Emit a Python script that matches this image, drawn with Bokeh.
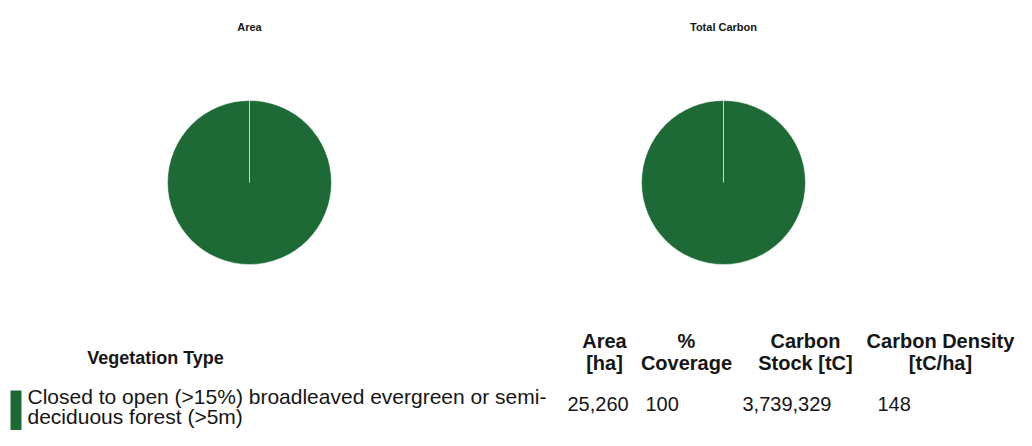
import math
from bokeh.plotting import figure
from bokeh.models import Range1d, ColumnDataSource
from bokeh.core.properties import value
from bokeh.embed import file_html
from bokeh.resources import INLINE

# ---- data ----
pie_titles = ["Area", "Total Carbon"]
categories = ["Closed to open (>15%) broadleaved evergreen or semi-deciduous forest (>5m)"]
category_colors = ["#1e6a37"]
area_ha = [25260]
coverage_pct = [100]
carbon_stock_tc = [3739329]
carbon_density = [148]
table_headers = ["Area\n[ha]", "%\nCoverage", "Carbon\nStock [tC]", "Carbon Density\n[tC/ha]"]

FONT = value("Liberation Sans")
INK = "#161616"

W, H = 1016, 430
p = figure(width=W, height=H, output_backend="svg", toolbar_location=None,
           x_range=Range1d(0, W), y_range=Range1d(H, 0), min_border=0)
p.axis.visible = False
p.grid.visible = False
p.outline_line_color = None

# ---- pies ----
pie_cx = [249, 723]
pie_cy = 182
pie_r = 82
for title, cx, vals in zip(pie_titles, pie_cx, [area_ha, carbon_stock_tc]):
    total = float(sum(vals))
    starts, ends = [], []
    acc = 0.0
    for v in vals:
        starts.append(math.pi / 2 + 2 * math.pi * acc / total)
        acc += v
        ends.append(math.pi / 2 + 2 * math.pi * acc / total)
    src = ColumnDataSource(dict(x=[cx] * len(vals), y=[pie_cy] * len(vals),
                                start=starts, end=ends, color=category_colors[:len(vals)]))
    p.wedge(x="x", y="y", radius=pie_r, radius_units="screen", start_angle="start",
            end_angle="end", fill_color="color", line_color="white", line_width=0.8,
            line_alpha=0.6, source=src)
    p.text(x=[cx], y=[26], text=[title], text_font=FONT, text_font_style="bold",
           text_font_size="11px", text_align="center", text_baseline="middle",
           text_color=INK)

# ---- table ----
p.text(x=[155], y=[357], text=["Vegetation Type"], text_font=FONT, text_font_style="bold",
       text_font_size="18px", text_align="center", text_baseline="middle", text_color=INK)
header_x = [604, 686, 805, 940]
p.text(x=header_x, y=[351] * 4, text=table_headers, text_font=FONT, text_font_style="bold",
       text_font_size="20px", text_align="center", text_baseline="middle",
       text_line_height=1.0, text_color=INK)

row_y = 406
for i, cat in enumerate(categories):
    label = cat.replace("semi-", "semi-\n")
    p.quad(left=[10], right=[21], top=[390], bottom=[440],
           fill_color=category_colors[i], line_color=None)
    p.text(x=[27], y=[row_y], text=[label], text_font=FONT, text_font_size="21px",
           text_align="left", text_baseline="middle", text_line_height=0.9,
           text_color=INK)
    vals = [f"{area_ha[i]:,}", f"{coverage_pct[i]}", f"{carbon_stock_tc[i]:,}",
            f"{carbon_density[i]:,}"]
    p.text(x=[567, 645, 742, 877], y=[row_y - 3] * 4, text=vals, text_font=FONT,
           text_font_size="20px", text_align="left", text_baseline="middle",
           text_color=INK)

open("out.html", "w").write(file_html(p, INLINE))
